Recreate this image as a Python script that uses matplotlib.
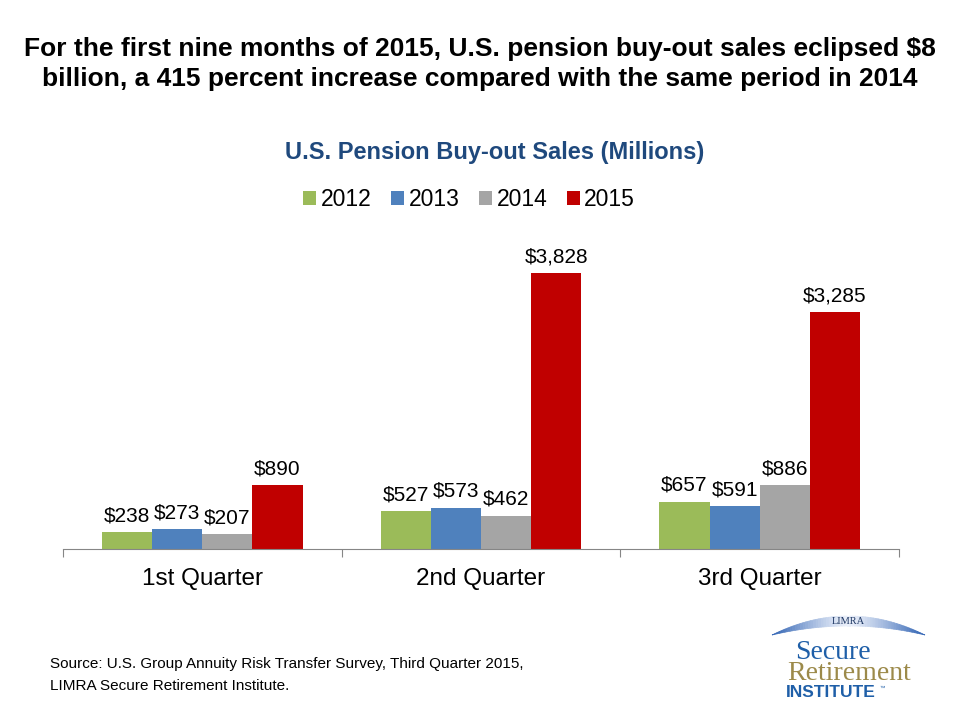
import matplotlib
matplotlib.use("Agg")
import matplotlib.pyplot as plt
import numpy as np

plt.rcParams['font.family'] = ['Liberation Sans', 'DejaVu Sans']

quarters = ["1st Quarter", "2nd Quarter", "3rd Quarter"]
years = ["2012", "2013", "2014", "2015"]
sales = {
    "2012": [238, 527, 657],
    "2013": [273, 573, 591],
    "2014": [207, 462, 886],
    "2015": [890, 3828, 3285],
}
colors = ["#9BBB59", "#4F81BD", "#A5A5A5", "#C00000"]

fig = plt.figure(figsize=(9.6, 7.2), dpi=100)
ax = fig.add_axes([63 / 960, (720 - 549) / 720, (899 - 63) / 960, 324 / 720])

x = np.arange(len(quarters))
w = 0.18
for i, yr in enumerate(years):
    pos = x + (i - 1.5) * w
    bars = ax.bar(pos, sales[yr], w, color=colors[i], label=yr)
    for b, v in zip(bars, sales[yr]):
        ax.text(b.get_x() + b.get_width() / 2, v + 95, "${:,}".format(v),
                ha="center", va="bottom", fontsize=15)

ax.set_xlim(-0.5, 2.5)
ax.set_ylim(0, 4500)
ax.set_yticks([])
for s in ["top", "right", "left"]:
    ax.spines[s].set_visible(False)
ax.spines["bottom"].set_color("#868686")
ax.set_xticks([-0.5, 0.5, 1.5, 2.5])
ax.set_xticklabels([])
ax.set_xticks(x, minor=True)
ax.set_xticklabels(quarters, minor=True, fontsize=17.5)
ax.tick_params(axis="x", which="major", length=6, color="#868686", direction="out")
ax.tick_params(axis="x", which="minor", length=0, pad=14)

fig.text(0.5, 1 - 64 / 720, "For the first nine months of 2015, U.S. pension buy-out sales eclipsed $8\n"
         "billion, a 415 percent increase compared with the same period in 2014",
         ha="center", va="center", fontsize=19, fontweight="bold", linespacing=1.3)
fig.text(495 / 960, 1 - 152 / 720, "U.S. Pension Buy-out Sales (Millions)", ha="center", va="center",
         fontsize=17, fontweight="bold", color="#1F497D")

fig.legend(loc="center", bbox_to_anchor=(469 / 960, 1 - 200 / 720), ncol=4, frameon=False,
           fontsize=16.5, handlelength=0.57, handleheight=0.57, handletextpad=0.2,
           columnspacing=0.85)

fig.text(50 / 960, 1 - 675 / 720, "Source: U.S. Group Annuity Risk Transfer Survey, Third Quarter 2015,\n"
         "LIMRA Secure Retirement Institute.", ha="left", va="center", fontsize=11, linespacing=1.75)

# logo: crescent band with pale centre
xs = np.linspace(772, 925, 60)
cx = 848.5
half = (925 - 772) / 2
t = (xs - cx) / half
top = 635 - 19 * (1 - t ** 2)
bot = 635 - 9 * (1 - t ** 2)
c_dark = np.array([0.23, 0.42, 0.72])
c_light = np.array([0.92, 0.94, 0.98])
for k in range(len(xs) - 1):
    tm = abs((t[k] + t[k + 1]) / 2)
    col = c_light + (c_dark - c_light) * min(1, tm ** 1.3 * 1.1)
    px = [xs[k], xs[k + 1], xs[k + 1], xs[k]]
    py = [top[k], top[k + 1], bot[k + 1], bot[k]]
    fig.patches.append(plt.Polygon([(a / 960, 1 - b / 720) for a, b in zip(px, py)],
                                   closed=True, transform=fig.transFigure,
                                   facecolor=col, edgecolor=col, lw=0.5))
fig.text(cx / 960, 1 - 622 / 720, "LIMRA", ha="center", va="center", fontsize=7.5,
         family="Liberation Serif", color="#1F3864")
fig.text(833 / 960, 1 - 659 / 720, "Secure", ha="center", va="baseline", fontsize=20,
         family="Liberation Serif", color="#1F5FA8")
fig.text(849 / 960, 1 - 680 / 720, "Retirement", ha="center", va="baseline", fontsize=20,
         family="Liberation Serif", color="#9C8A4A")
fig.text(831 / 960, 1 - 697 / 720, "INSTITUTE", ha="center", va="baseline", fontsize=12.5,
         fontweight="bold", family=["Liberation Sans Narrow", "Liberation Sans"], color="#1F5FA8")
fig.text(879 / 960, 1 - 688 / 720, "\u2122", ha="left", va="center", fontsize=4, color="#1F5FA8")

fig.savefig("out.png", dpi=100)
